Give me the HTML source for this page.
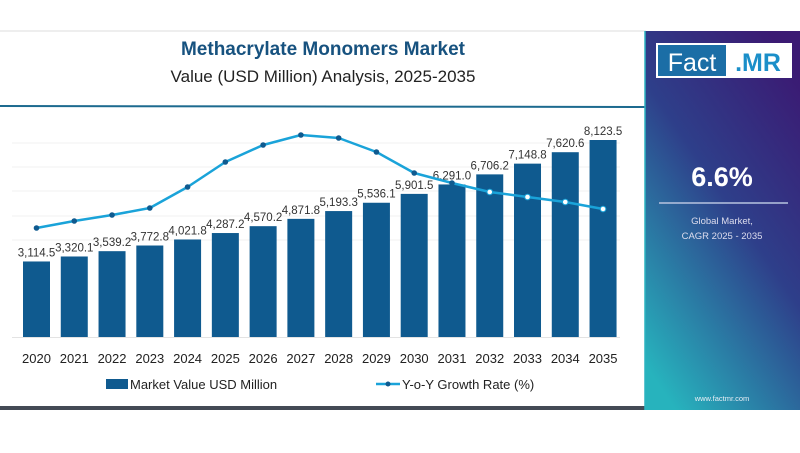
<!DOCTYPE html>
<html><head><meta charset="utf-8"><style>
body{margin:0;width:800px;height:448px;background:#fff;overflow:hidden;font-family:"Liberation Sans",sans-serif}
#wrap{position:relative;width:800px;height:448px}
</style></head><body><div id="wrap">
<svg width="800" height="448" viewBox="0 0 800 448">
<defs>
<linearGradient id="pg" x1="0.8" y1="0" x2="0.2" y2="1">
<stop offset="0" stop-color="#3b1a73"/><stop offset="0.45" stop-color="#2e3f8a"/><stop offset="1" stop-color="#27b3bd"/>
</linearGradient>
</defs>
<line x1="0" y1="31" x2="646" y2="31" stroke="#ddd" stroke-width="1"/>
<rect x="0" y="406" width="646" height="4" fill="#444a55"/>
<text x="323" y="55" text-anchor="middle" font-size="19" font-weight="bold" fill="#17527f">Methacrylate Monomers Market</text>
<text x="323" y="82" text-anchor="middle" font-size="17" fill="#222">Value (USD Million) Analysis, 2025-2035</text>
<line x1="0" y1="106" x2="645" y2="107" stroke="#1c6a8f" stroke-width="2"/>
<g id="grid"></g><g id="bars"></g><g id="line"></g><g id="xaxis"></g>
<rect x="645" y="31" width="155" height="379" fill="url(#pg)"/>
<line x1="645" y1="31" x2="645" y2="410" stroke="#2bb3c0" stroke-width="1.5"/>
<rect x="656" y="43" width="136" height="35" fill="#fff"/>
<rect x="658" y="45" width="68" height="31" fill="#1b6ea6"/>
<text x="692" y="71" text-anchor="middle" font-size="25" fill="#fff">Fact</text>
<text x="758" y="71" text-anchor="middle" font-size="25" font-weight="bold" fill="#1b8fc9">.MR</text>
<text x="722" y="186" text-anchor="middle" font-size="27" font-weight="bold" fill="#fff">6.6%</text>
<line x1="659" y1="203" x2="788" y2="203" stroke="#b8c4e0" stroke-width="1.5"/>
<text x="722" y="224" text-anchor="middle" font-size="9.5" fill="#dde">Global Market,</text>
<text x="722" y="239" text-anchor="middle" font-size="9.5" fill="#dde">CAGR 2025 - 2035</text>
<text x="722" y="401" text-anchor="middle" font-size="7.5" fill="#e8eef5">www.factmr.com</text>
<rect x="106" y="379" width="22" height="10" fill="#0f5a8f"/>
<text x="130" y="389" font-size="13" fill="#222">Market Value USD Million</text>
<line x1="376" y1="384" x2="400" y2="384" stroke="#1aa3d9" stroke-width="2.5"/>
<circle cx="388" cy="384" r="2.5" fill="#0f5a8f"/>
<text x="402" y="389" font-size="13" fill="#222">Y-o-Y Growth Rate (%)</text>
</svg></div>
<script>
const years=["2020","2021","2022","2023","2024","2025","2026","2027","2028","2029","2030","2031","2032","2033","2034","2035"];
const marketValues=[3114.5,3320.1,3539.2,3772.8,4021.8,4287.2,4570.2,4871.8,5193.3,5536.1,5901.5,6291.0,6706.2,7148.8,7620.6,8123.5];
const growthRates=[1.1,1.45,1.75,2.1,3.15,4.4,5.25,5.75,5.6,4.9,3.85,3.35,2.9,2.65,2.4,2.05];
const NS="http://www.w3.org/2000/svg";
const x=i=>36.5+i*37.77;
const yBar=v=>337-v*0.02425;
const yLine=v=>250-v*20;
function mk(tag,attrs,parent){const e=document.createElementNS(NS,tag);for(const k in attrs)e.setAttribute(k,attrs[k]);document.getElementById(parent).appendChild(e);return e;}
[143,167,191,216,240].forEach(gy=>{const g=mk('line',{x1:12,x2:620,y1:gy,y2:gy,stroke:'#f1f1f1','stroke-width':1},'grid');

});
const ax=mk('line',{x1:12,x2:620,y1:337.5,y2:337.5,stroke:'#e3e3e3'},'xaxis');


marketValues.forEach((v,i)=>{
const r=mk('rect',{x:x(i)-13.5,y:yBar(v),width:27,height:337-yBar(v),fill:'#0f5a8f'},'bars');


const t=mk('text',{x:x(i),y:yBar(v)-5,'text-anchor':'middle','font-size':11.5,fill:'#333'},'bars');
t.textContent=v.toLocaleString('en-US',{minimumFractionDigits:1,maximumFractionDigits:1});


const yl=mk('text',{x:x(i),y:363,'text-anchor':'middle','font-size':13,fill:'#222'},'xaxis');
yl.textContent=years[i];


});
let d='';growthRates.forEach((v,i)=>{d+=(i?'L':'M')+x(i)+','+yLine(v);});
const p=mk('path',{d:d,fill:'none',stroke:'#1aa3d9','stroke-width':2.5,'stroke-linejoin':'round'},'line');


growthRates.forEach((v,i)=>{const c=mk('circle',{cx:x(i),cy:yLine(v),r:2.8,fill:i>11?'#fff':'#0f5a8f',stroke:i>11?'#1aa3d9':'none','stroke-width':1},'line');

});
</script></body></html>
